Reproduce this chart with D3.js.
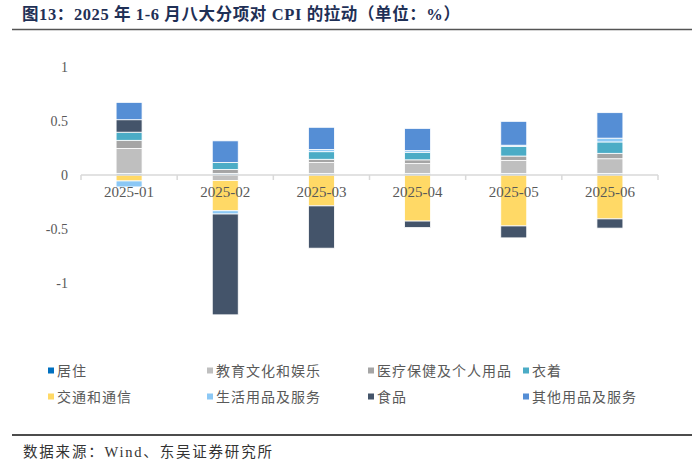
<!DOCTYPE html>
<html>
<head>
  <meta charset="utf-8">
  <title>CPI 八大分项拉动</title>
  <script src="https://d3js.org/d3.v7.min.js"></script>
  <style>
    body { margin: 0; background: #fff; }
  </style>
</head>
<body>
  <script>
    // data
    const months = ["2025-01", "2025-02", "2025-03", "2025-04", "2025-05", "2025-06"];
    const seriesNames = ["居住", "教育文化和娱乐", "医疗保健及个人用品", "衣着",
                         "交通和通信", "生活用品及服务", "食品", "其他用品及服务"];
    const housing   = [0.015, 0.015, 0.015, 0.015, 0.015, 0.015];
    const education = [0.23, -0.05, 0.10, 0.09, 0.12, 0.135];
    const medical   = [0.075, 0.035, 0.03, 0.035, 0.04, 0.05];
    const clothing  = [0.075, 0.065, 0.07, 0.07, 0.09, 0.105];
    const transport = [-0.055, -0.28, -0.285, -0.425, -0.47, -0.405];
    const household = [-0.055, -0.03, 0.02, 0.015, 0.01, 0.035];
    const food      = [0.115, -0.93, -0.39, -0.06, -0.11, -0.085];
    const others    = [0.16, 0.20, 0.205, 0.205, 0.22, 0.235];
    const yTicks = [1, 0.5, 0, -0.5, -1];

    const colors = ["#0070c0", "#bfbfbf", "#a5a5a5", "#4bacc6",
                    "#ffd966", "#8cc8f5", "#44546a", "#558ed5"];
    const values = [housing, education, medical, clothing, transport, household, food, others];

    const width = 700, height = 471;

    // build rows for d3.stack
    const rows = months.map((m, i) => {
      const r = { month: m };
      seriesNames.forEach((s, j) => r[s] = values[j][i]);
      return r;
    });

    const stacked = d3.stack()
      .keys(seriesNames)
      .offset(d3.stackOffsetDiverging)(rows);

    const svg = d3.select("body").append("svg")
      .attr("width", width)
      .attr("height", height);

    // title
    svg.append("text")
      .attr("x", 22)
      .attr("y", 20)
      .attr("font-family", "'Liberation Serif', 'Noto Sans CJK SC'")
      .attr("font-weight", "bold")
      .attr("font-size", 16.5)
      .attr("letter-spacing", 0.6)
      .attr("fill", "#1f3056")
      .text("图13：2025 年 1-6 月八大分项对 CPI 的拉动（单位：%）");

    svg.append("line")
      .attr("x1", 12).attr("x2", 692)
      .attr("y1", 29.5).attr("y2", 29.5)
      .attr("stroke", "#555")
      .attr("stroke-width", 1.5);

    const x = d3.scaleBand()
      .domain(months)
      .range([81, 658])
      .paddingInner(0.73)
      .paddingOuter(0.365);

    const y = d3.scaleLinear()
      .domain([-1.5, 1])
      .range([337.6, 66.6]);

    // y labels (no axis line)
    svg.append("g")
      .selectAll("text")
      .data(yTicks)
      .join("text")
      .attr("x", 68)
      .attr("y", d => y(d))
      .attr("dy", "0.35em")
      .attr("text-anchor", "end")
      .attr("font-family", "'Liberation Serif'")
      .attr("font-size", 14)
      .attr("fill", "#595959")
      .text(d => d);

    // bars
    svg.append("g")
      .selectAll("g")
      .data(stacked)
      .join("g")
      .attr("fill", (d, i) => colors[i])
      .selectAll("rect")
      .data(d => d)
      .join("rect")
      .attr("x", d => x(d.data.month))
      .attr("width", x.bandwidth())
      .attr("y", d => y(Math.max(d[0], d[1])))
      .attr("height", d => Math.abs(y(d[0]) - y(d[1])))
      .attr("stroke", "#fff")
      .attr("stroke-width", 0.8);

    // x axis line at zero with ticks at category boundaries
    const xAxis = svg.append("g");
    xAxis.append("line")
      .attr("x1", 81).attr("x2", 658)
      .attr("y1", y(0)).attr("y2", y(0))
      .attr("stroke", "#d9d9d9")
      .attr("stroke-width", 1.5);
    const bounds = d3.range(months.length + 1).map(i => 81 + i * x.step());
    xAxis.selectAll(".tk")
      .data(bounds)
      .join("line")
      .attr("class", "tk")
      .attr("x1", d => d).attr("x2", d => d)
      .attr("y1", y(0)).attr("y2", y(0) + 5)
      .attr("stroke", "#d9d9d9")
      .attr("stroke-width", 1.5);
    xAxis.selectAll(".lbl")
      .data(months)
      .join("text")
      .attr("class", "lbl")
      .attr("x", d => x(d) + x.bandwidth() / 2)
      .attr("y", 197)
      .attr("text-anchor", "middle")
      .attr("font-family", "'Liberation Serif'")
      .attr("font-size", 15)
      .attr("fill", "#595959")
      .text(d => d);

    // legend
    const legX = [48, 207, 368, 523];
    const legY = [371, 397];
    const legend = svg.append("g")
      .selectAll("g")
      .data(seriesNames)
      .join("g")
      .attr("transform", (d, i) => `translate(${legX[i % 4]},${legY[Math.floor(i / 4)]})`);
    legend.append("rect")
      .attr("x", 0).attr("y", -3.5)
      .attr("width", 6).attr("height", 6)
      .attr("fill", (d, i) => colors[i]);
    legend.append("text")
      .attr("x", 9)
      .attr("dy", "0.35em")
      .attr("font-family", "'Noto Sans CJK SC'")
      .attr("font-size", 14)
      .attr("letter-spacing", 1)
      .attr("fill", "#595959")
      .text(d => d);

    // source
    svg.append("line")
      .attr("x1", 12).attr("x2", 692)
      .attr("y1", 435).attr("y2", 435)
      .attr("stroke", "#111")
      .attr("stroke-width", 1.5);
    svg.append("text")
      .attr("x", 23)
      .attr("y", 457)
      .attr("font-family", "'Liberation Serif', 'Noto Sans CJK SC'")
      .attr("font-size", 14.5)
      .attr("letter-spacing", 1.8)
      .attr("fill", "#333")
      .text("数据来源：Wind、东吴证券研究所");
  </script>
</body>
</html>
